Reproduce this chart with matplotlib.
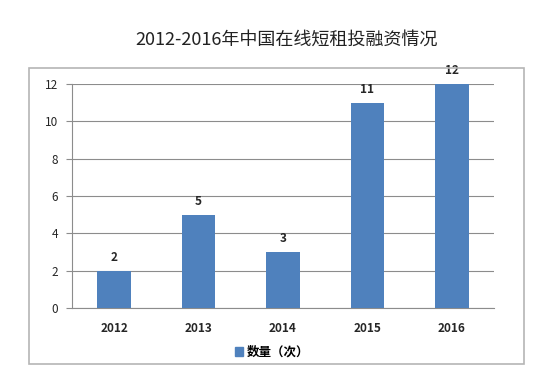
import matplotlib
matplotlib.use("Agg")
import matplotlib.pyplot as plt
from matplotlib.patches import Rectangle

plt.rcParams['font.family'] = ['Noto Sans CJK SC', 'DejaVu Sans']

years = ["2012", "2013", "2014", "2015", "2016"]
counts = [2, 5, 3, 11, 12]
yticks = [0, 2, 4, 6, 8, 10, 12]
title = "2012-2016年中国在线短租投融资情况"
series_name = "数量（次）"

W, H = 553, 383
fig = plt.figure(figsize=(W / 100, H / 100), dpi=100)
fig.patch.set_facecolor("white")

# outer chart frame
fig.patches.append(Rectangle((29 / W, 1 - 364 / H), (524 - 29) / W, (364 - 68) / H,
                             transform=fig.transFigure, fill=False,
                             edgecolor="#b5b5b5", linewidth=1.2))

ax = fig.add_axes([72 / W, 1 - 308 / H, (494 - 72) / W, (308 - 84) / H])
color = "#4f81bd"
x = list(range(len(years)))
ax.bar(x, counts, width=0.4, color=color, zorder=3)
for xi, v in zip(x, counts):
    ax.text(xi, v + 0.35, str(v), ha="center", va="bottom", fontsize=8.5,
            color="#262626", fontweight="bold")

ax.set_xlim(-0.5, len(years) - 0.5)
ax.set_ylim(0, 12)
ax.set_yticks(yticks)
ax.set_yticklabels([str(t) for t in yticks], fontsize=8.5, color="#262626")
ax.set_xticks(x)
ax.set_xticklabels(years, fontsize=8.5, color="#262626", fontweight="bold")
ax.yaxis.grid(True, color="#8c8c8c", linewidth=0.8, zorder=0)
for s in ["top", "right"]:
    ax.spines[s].set_visible(False)
for s in ["left", "bottom"]:
    ax.spines[s].set_color("#8c8c8c")
    ax.spines[s].set_linewidth(0.8)
ax.tick_params(axis="y", length=4, color="#8c8c8c", pad=6)
ax.tick_params(axis="x", length=0, pad=10)

fig.text(287 / W, 1 - 40 / H, title, ha="center", va="center", fontsize=13, color="#222222")

handle = Rectangle((0, 0), 1, 1, color=color)
fig.legend([handle], [series_name], loc="center", bbox_to_anchor=(272 / W, 1 - 352 / H),
           frameon=False, handlelength=0.7, handleheight=0.7, handletextpad=0.3,
           prop={"weight": "bold", "size": 9})

fig.savefig("out.png", dpi=100, facecolor="white")
